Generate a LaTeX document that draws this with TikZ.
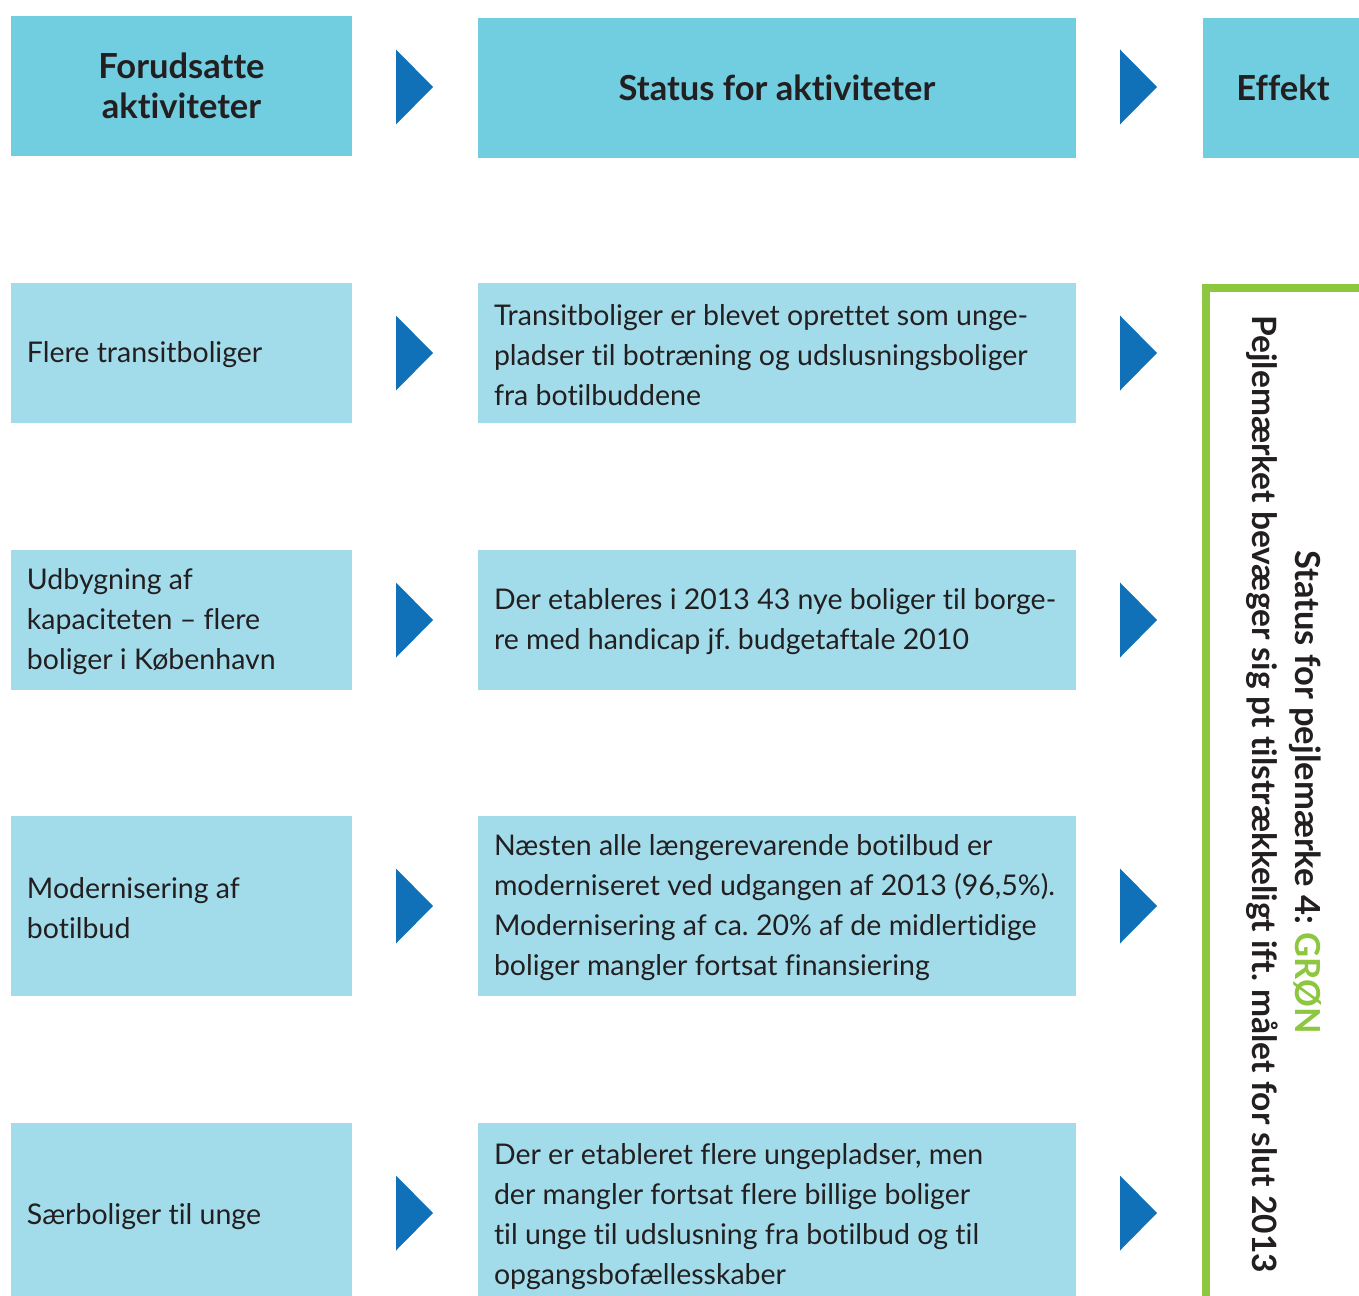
\documentclass[tikz,border=0pt]{standalone}
\usepackage{fontspec}
\setmainfont{Lato}[Ligatures={NoCommon}]
\definecolor{hdr}{HTML}{71CDE0}
\definecolor{rowc}{HTML}{A2DCEB}
\definecolor{arr}{HTML}{1071B9}
\definecolor{grn}{HTML}{8DC63F}
\definecolor{txt}{HTML}{231F20}
\begin{document}
\frenchspacing
\begin{tikzpicture}[x=1pt,y=-1pt,
  hbox/.style={fill=hdr, inner sep=0pt, text=txt, font=\fontsize{34.5}{40}\selectfont\bfseries, align=center},
  rbox/.style={fill=rowc, inner sep=0pt},
  rtxt/.style={anchor=west, inner sep=0pt, text=txt, font=\fontsize{28.5}{40}\selectfont, align=left},
  tri/.style={fill=arr},
  rot/.style={rotate=-90, text=txt, inner sep=0pt}]
\clip (0,0) rectangle (1359,1295);
\useasboundingbox (0,0) rectangle (1359,1295);
% headers
\node[hbox, minimum width=341pt, minimum height=140pt] (h1) at (181.5,86) {Forudsatte\\aktiviteter};
\node[hbox, minimum width=598pt, minimum height=140pt] (h2) at (777,88) {Status for aktiviteter};
\node[hbox, minimum width=160pt, minimum height=140pt] (h3) at (1283,88) {Effekt};
% boxes
\node[rbox, minimum width=341pt, minimum height=140pt] (a1) at (181.5,353) {};
\node[rbox, minimum width=341pt, minimum height=140pt] (a2) at (181.5,620) {};
\node[rbox, minimum width=341pt, minimum height=180pt] (a3) at (181.5,906) {};
\node[rbox, minimum width=341pt, minimum height=184pt] (a4) at (181.5,1215) {};
\node[rbox, minimum width=598pt, minimum height=140pt] (b1) at (777,353) {};
\node[rbox, minimum width=598pt, minimum height=140pt] (b2) at (777,620) {};
\node[rbox, minimum width=598pt, minimum height=180pt] (b3) at (777,906) {};
\node[rbox, minimum width=598pt, minimum height=184pt] (b4) at (777,1215) {};
% texts col 1
\node[rtxt] (ta1) at ([xshift=16pt,yshift=-2pt]a1.west) {Flere transitboliger};
\node[rtxt] (ta2) at ([xshift=16pt,yshift=-2pt]a2.west) {Udbygning af\\kapaciteten -- flere\\boliger i København};
\node[rtxt] (ta3) at ([xshift=16pt,yshift=-2pt]a3.west) {Modernisering af\\botilbud};
\node[rtxt] (ta4) at ([xshift=16pt,yshift=-2pt]a4.west) {Særboliger til unge};
% texts col 2
\node[rtxt] (tb1) at ([xshift=16pt,yshift=-2pt]b1.west) {Transitboliger er blevet oprettet som unge-\\pladser til botræning og udslusningsboliger\\fra botilbuddene};
\node[rtxt] (tb2) at ([xshift=16pt,yshift=-2pt]b2.west) {Der etableres i 2013 43 nye boliger til borge-\\re med handicap jf. budgetaftale 2010};
\node[rtxt] (tb3) at ([xshift=16pt,yshift=-2pt]b3.west) {Næsten alle længerevarende botilbud er\\moderniseret ved udgangen af 2013 (96,5\%).\\Modernisering af ca. 20\% af de midlertidige\\boliger mangler fortsat finansiering};
\node[rtxt] (tb4) at ([xshift=16pt,yshift=-2pt]b4.west) {Der er etableret flere ungepladser, men\\der mangler fortsat flere billige boliger\\til unge til udslusning fra botilbud og til\\opgangsbofællesskaber};
% arrows
\foreach \yy in {87,353,620,906,1213}{
  \fill[tri] (396,\yy-37.5) -- (433,\yy) -- (396,\yy+37.5) -- cycle;
  \fill[tri] (1120,\yy-37.5) -- (1157,\yy) -- (1120,\yy+37.5) -- cycle;
}
% green frame
\draw[grn, line width=8pt] (1206,1300) -- (1206,288) -- (1365,288);
% rotated texts
\node[rot, font=\fontsize{34.5}{36}\selectfont\bfseries] (s1) at (1305,792) {Status for pejlemærke 4: \textcolor{grn}{GRØN}};
\node[rot, font=\fontsize{33.5}{36}\selectfont\bfseries] (s2) at (1262,794) {Pejlemærket bevæger sig pt tilstrækkeligt ift. målet for slut 2013};
\end{tikzpicture}
\end{document}
